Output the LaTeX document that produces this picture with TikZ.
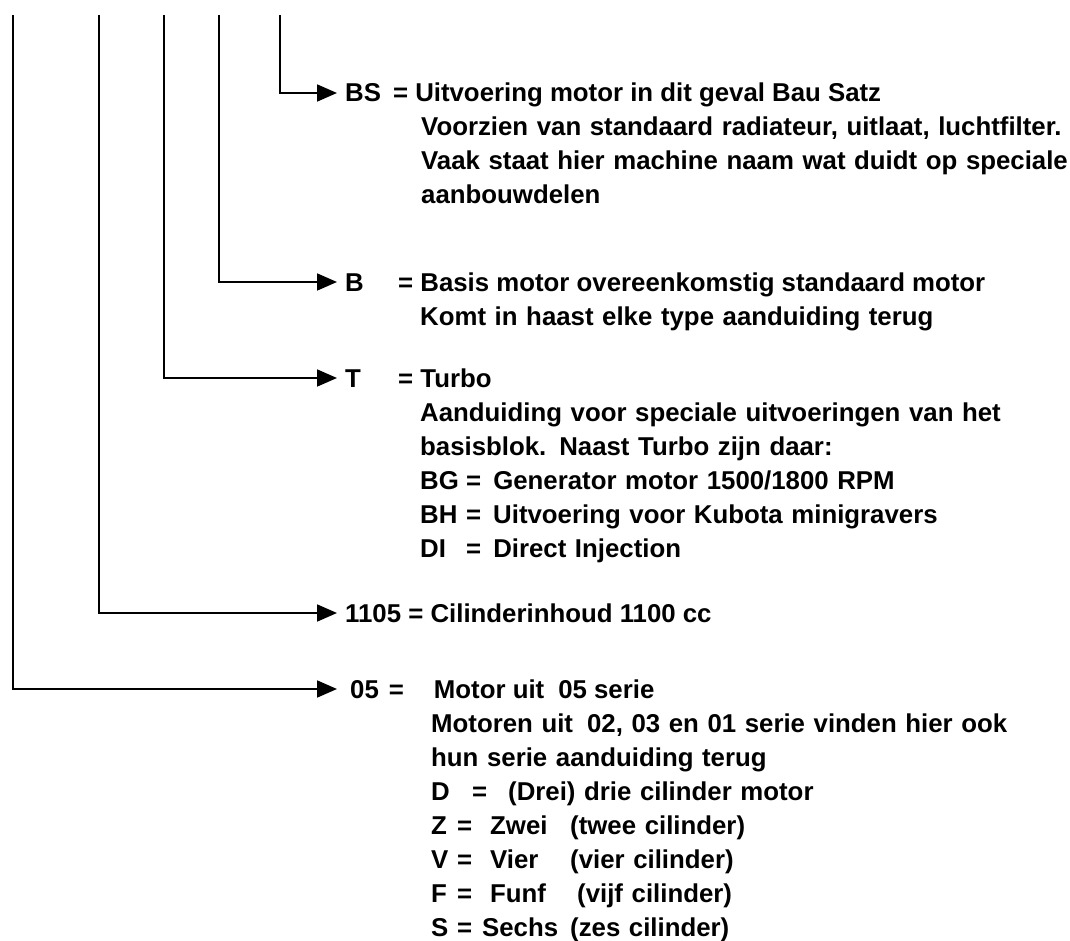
\documentclass[tikz,border=0pt]{standalone}
\usepackage{fontspec}
\setmainfont{Liberation Sans}
\usetikzlibrary{arrows.meta,positioning,calc}

\newcommand{\cell}[2]{\makebox[#1pt][l]{#2}}

\begin{document}
\begin{tikzpicture}[
    x=1pt,y=-1pt,
    txt/.style={inner sep=0pt,anchor=base west,font=\bfseries\fontsize{25.8}{34}\selectfont},
    note/.style={txt,text width=720pt,align=left},
    conn/.style={line width=1.8pt,-{Triangle[length=20pt,width=17pt]}}
]
    \useasboundingbox (0,0) rectangle (1070,941);

    % code letters and their explanation
    \node[txt] (bs) at (345,102) {BS\hspace{12pt}= Uitvoering motor in dit geval Bau Satz};
    \node[note] (bsnote) at ([xshift=76pt,yshift=-34pt]bs.base west) {Voorzien van standaard radiateur, uitlaat, luchtfilter.\\Vaak staat hier machine naam wat duidt op speciale\\aanbouwdelen};

    \node[txt] (b) at (345,291) {\cell{53}{B}= Basis motor overeenkomstig standaard motor};
    \node[note] (bnote) at ([xshift=75pt,yshift=-34pt]b.base west) {Komt in haast elke type aanduiding terug};

    \node[txt] (t) at (345,387) {\cell{53}{T}= Turbo};
    \node[note] (tnote) at ([xshift=75pt,yshift=-34pt]t.base west) {Aanduiding voor speciale uitvoeringen van het\\basisblok. Naast Turbo zijn daar:\\\cell{46}{BG}=\hspace{12pt}Generator motor 1500/1800 RPM\\\cell{46}{BH}=\hspace{12pt}Uitvoering voor Kubota minigravers\\\cell{46}{DI}=\hspace{12pt}Direct Injection};

    \node[txt] (cyl) at (345,622) {1105 = Cilinderinhoud 1100 cc};

    \node[txt] (ser) at (350,698) {05\hspace{10pt}=\hspace{30pt}Motor uit\hspace{14pt}05 serie};
    \node[note] (sernote) at ([xshift=81pt,yshift=-34pt]ser.base west) {Motoren uit\hspace{14pt}02, 03 en 01 serie vinden hier ook\\hun serie aanduiding terug\\\cell{41}{D}\cell{36}{=}(Drei) drie cilinder motor\\\cell{26}{Z}\cell{33}{=}\cell{80}{Zwei}(twee cilinder)\\\cell{26}{V}\cell{33}{=}\cell{80}{Vier}(vier cilinder)\\\cell{26}{F}\cell{33}{=}\cell{87}{Funf}(vijf cilinder)\\\cell{26}{S}\cell{25}{=}\cell{88}{Sechs}(zes cilinder)};

    % tops of the position lines
    \coordinate (top1) at (13,15);
    \coordinate (top2) at (99,15);
    \coordinate (top3) at (164,15);
    \coordinate (top4) at (219,15);
    \coordinate (top5) at (280,15);

    \draw[conn] (top5) |- ([xshift=-8pt,yshift=9pt]bs.base west);
    \draw[conn] (top4) |- ([xshift=-8pt,yshift=9pt]b.base west);
    \draw[conn] (top3) |- ([xshift=-8pt,yshift=9pt]t.base west);
    \draw[conn] (top2) |- ([xshift=-8pt,yshift=9pt]cyl.base west);
    \draw[conn] (top1) |- ([xshift=-13pt,yshift=9pt]ser.base west);
\end{tikzpicture}
\end{document}
